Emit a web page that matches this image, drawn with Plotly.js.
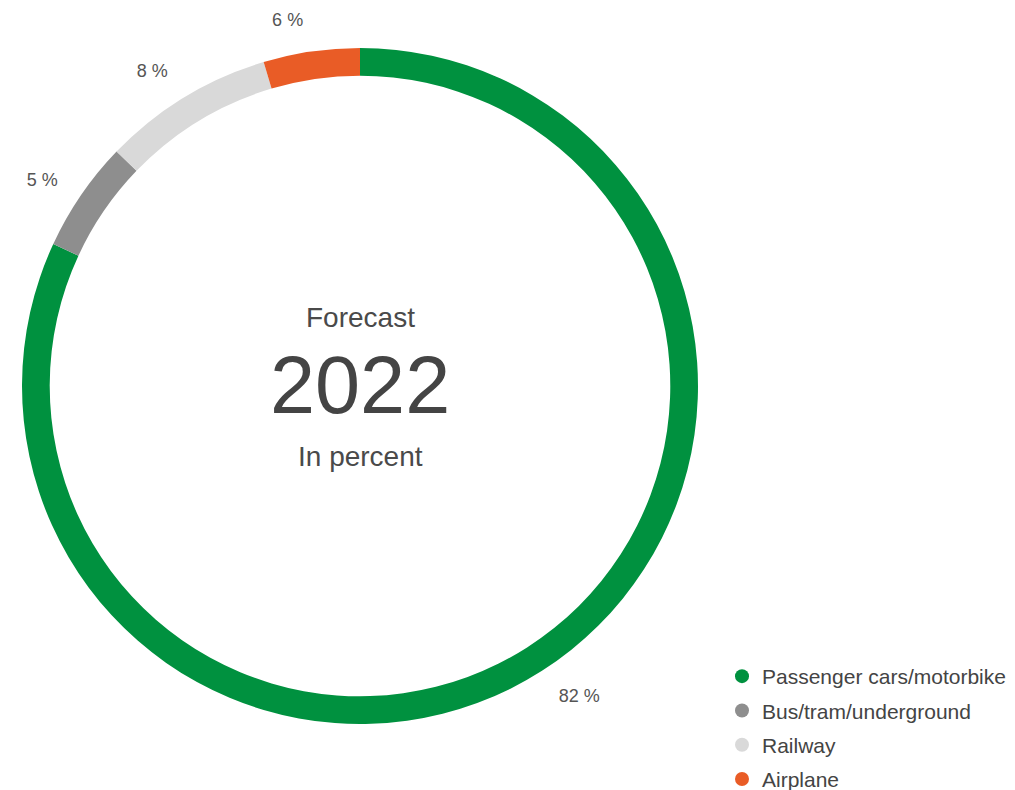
<!DOCTYPE html>
<html>
<head>
<meta charset="utf-8">
<script src="https://cdn.plot.ly/plotly-3.0.1.min.js"></script>
<style>html,body{margin:0;padding:0;background:#fff;}#chart{width:1015px;height:790px;}</style>
</head>
<body>
<div id="chart"></div>
<script>
// Categories (clockwise from 12 o'clock)
const categories = ['Passenger cars/motorbike', 'Bus/tram/underground', 'Railway', 'Airplane'];
// Arc sizes as measured from the ring (percent)
const arcValues = [81.9, 5.3, 8.2, 4.6];
// Printed share labels (percent)
const shareLabels = [82, 5, 8, 6];
const colors = ['#00913f', '#8e8e8e', '#d9d9d9', '#e95c26'];
const centerLines = ['Forecast', '2022', 'In percent'];

const FONT = '"Liberation Sans", Arial, Helvetica, sans-serif';
const W = 1015, H = 790;
const cx = 360, cy = 386, R = 338;

const ring = {
  type: 'pie',
  labels: categories,
  values: arcValues,
  sort: false,
  direction: 'clockwise',
  rotation: 0,
  hole: 0.918,
  marker: {colors: colors, line: {width: 0}},
  textinfo: 'none',
  showlegend: false,
  hoverinfo: 'skip',
  domain: {x: [(cx - R) / W, (cx + R) / W], y: [1 - (cy + R) / H, 1 - (cy - R) / H]}
};

const RL = 360;
const labelRing = {
  type: 'pie',
  labels: categories,
  values: arcValues,
  text: shareLabels,
  sort: false,
  direction: 'clockwise',
  rotation: 0,
  hole: 0.99,
  marker: {colors: categories.map(() => 'rgba(0,0,0,0)'), line: {width: 0}},
  textposition: 'outside',
  texttemplate: '%{text} %',
  outsidetextfont: {family: FONT, size: 18, color: '#555555'},
  showlegend: false,
  hoverinfo: 'skip',
  domain: {x: [(cx - RL) / W, (cx + RL) / W], y: [1 - (cy + RL) / H, 1 - (cy - RL) / H]}
};

const legendTraces = categories.map((c, i) => ({
  type: 'scatter',
  mode: 'markers',
  x: [null], y: [null],
  name: c,
  legendgroup: 'g' + i,
  marker: {color: colors[i], size: 14, symbol: 'circle'},
  hoverinfo: 'skip',
  showlegend: true
}));

const layout = {
  width: W, height: H,
  margin: {l: 0, r: 0, t: 0, b: 0, autoexpand: false},
  paper_bgcolor: '#ffffff',
  plot_bgcolor: '#ffffff',
  font: {family: FONT, color: '#444444'},
  xaxis: {visible: false, domain: [0.9, 1]},
  yaxis: {visible: false, domain: [0.9, 1]},
  showlegend: true,
  legend: {
    x: 722 / W, xanchor: 'left',
    y: 1 - 656 / H, yanchor: 'top',
    font: {family: FONT, size: 21, color: '#444444'},
    traceorder: 'grouped',
    tracegroupgap: 4,
    bgcolor: 'rgba(0,0,0,0)',
    itemclick: false, itemdoubleclick: false
  },
  annotations: [
    {text: centerLines[0], x: cx / W, y: 1 - 318 / H, xref: 'paper', yref: 'paper', showarrow: false,
     xanchor: 'center', yanchor: 'middle', font: {family: FONT, size: 28, color: '#4a4a4a'}},
    {text: centerLines[1], x: cx / W, y: 1 - 385 / H, xref: 'paper', yref: 'paper', showarrow: false,
     xanchor: 'center', yanchor: 'middle', font: {family: FONT, size: 81, color: '#444444'}},
    {text: centerLines[2], x: cx / W, y: 1 - 456 / H, xref: 'paper', yref: 'paper', showarrow: false,
     xanchor: 'center', yanchor: 'middle', font: {family: FONT, size: 28, color: '#4a4a4a'}}
  ],
  hovermode: false
};

Plotly.newPlot('chart', [ring, labelRing].concat(legendTraces), layout, {displayModeBar: false, staticPlot: true});
</script>
</body>
</html>
